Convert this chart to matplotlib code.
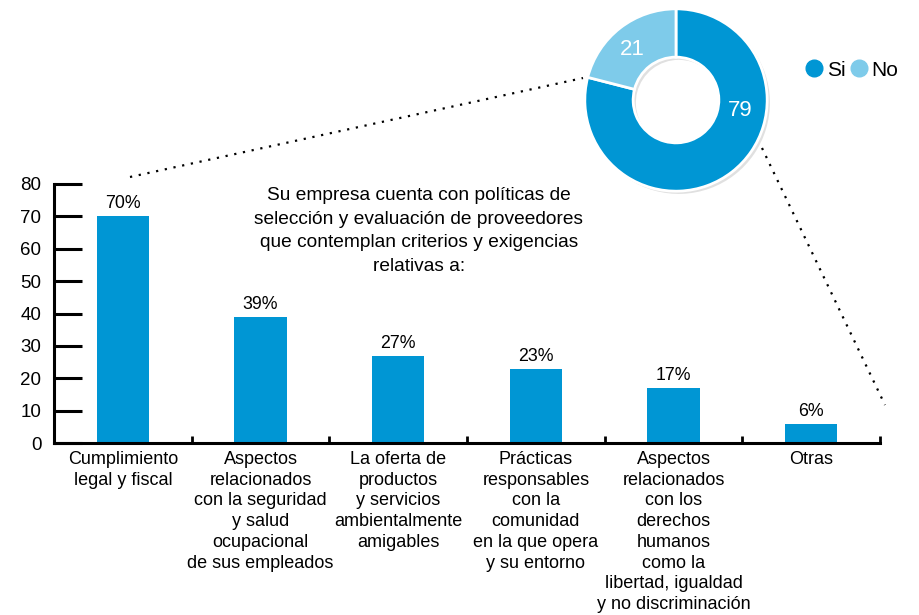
import matplotlib
matplotlib.use("Agg")
import matplotlib.pyplot as plt
from matplotlib.lines import Line2D

plt.rcParams['font.family'] = ['Liberation Sans', 'DejaVu Sans']

categories = ["Cumplimiento\nlegal y fiscal",
              "Aspectos\nrelacionados\ncon la seguridad\ny salud\nocupacional\nde sus empleados",
              "La oferta de\nproductos\ny servicios\nambientalmente\namigables",
              "Prácticas\nresponsables\ncon la\ncomunidad\nen la que opera\ny su entorno",
              "Aspectos\nrelacionados\ncon los\nderechos\nhumanos\ncomo la\nlibertad, igualdad\ny no discriminación",
              "Otras"]
values = [70, 39, 27, 23, 17, 6]
donut_labels = ["Si", "No"]
donut_values = [79, 21]
yticks = [0, 10, 20, 30, 40, 50, 60, 70, 80]
title = ("Su empresa cuenta con políticas de\nselección y evaluación de proveedores\n"
         "que contemplan criterios y exigencias\nrelativas a:")

BLUE = "#0096d4"
LIGHT = "#7ecbea"

W, H = 920, 615
fig = plt.figure(figsize=(W / 100, H / 100), dpi=100)

# Bar axes
x0, x1, ytop, ybot = 54, 880, 184, 443
ax = fig.add_axes([x0 / W, (H - ybot) / H, (x1 - x0) / W, (ybot - ytop) / H])
xs = list(range(len(values)))
ax.bar(xs, values, width=0.38, color=BLUE, zorder=2)
for x, v in zip(xs, values):
    ax.text(x, v + 1.2, f"{v}%", ha="center", va="bottom", fontsize=12.8)
ax.set_xlim(-0.5, len(values) - 0.5)
ax.set_ylim(0, 80)
ax.set_yticks(yticks)
ax.set_yticklabels([str(t) for t in yticks], fontsize=13.5)
ax.tick_params(axis="y", direction="in", length=20, width=2.2, pad=9)
for s in ["top", "right"]:
    ax.spines[s].set_visible(False)
ax.spines["left"].set_linewidth(2.2)
ax.spines["bottom"].set_linewidth(2.2)
ax.set_xticks([i + 0.5 for i in xs])
ax.tick_params(axis="x", direction="in", length=5, width=2, labelbottom=False)
for x, lab in zip(xs, categories):
    ax.text(x, -2.4, lab, ha="center", va="top", fontsize=13, linespacing=1.29)
ax.text(2.15, 80 - 1.0, title, ha="center", va="top", fontsize=13.8, linespacing=1.5)

# Donut
cx, cy, r = 676, 100, 93
dax = fig.add_axes([(cx - r) / W, (H - cy - r) / H, 2 * r / W, 2 * r / H])
dax.pie(donut_values, radius=1.0, startangle=90, counterclock=False,
        colors=["#cccccc", "#cccccc"], center=(0.03, -0.03),
        wedgeprops=dict(width=0.53, edgecolor="none", alpha=0.6))
wedges, _ = dax.pie(donut_values, radius=1.0, startangle=90, counterclock=False,
                    colors=[BLUE, LIGHT],
                    wedgeprops=dict(width=0.53, edgecolor="white", linewidth=2))
dax.text(0.70, -0.12, str(donut_values[0]), color="white", fontsize=16, ha="center", va="center")
dax.text(-0.48, 0.55, str(donut_values[1]), color="white", fontsize=16, ha="center", va="center")
dax.set_xlim(-1.02, 1.02)
dax.set_ylim(-1.02, 1.02)
dax.set_aspect("equal")

# Legend
fig.legend(handles=[Line2D([], [], marker="o", ls="none", color=BLUE, markersize=12, label=donut_labels[0]),
                    Line2D([], [], marker="o", ls="none", color=LIGHT, markersize=12, label=donut_labels[1])],
           loc="center left", bbox_to_anchor=(804 / W, (H - 70) / H), ncol=2, frameon=False,
           fontsize=15, handletextpad=0.1, columnspacing=0.15, handlelength=1.0, borderpad=0,
           borderaxespad=0)

# Dotted connector lines
fig.add_artist(Line2D([130 / W, 583 / W], [(H - 177) / H, (H - 78) / H], color="black",
                      ls=(0, (1, 3)), lw=1.6))
fig.add_artist(Line2D([762 / W, 885 / W], [(H - 148) / H, (H - 405) / H], color="black",
                      ls=(0, (1, 3)), lw=1.6))

fig.savefig("out.png", dpi=100)
